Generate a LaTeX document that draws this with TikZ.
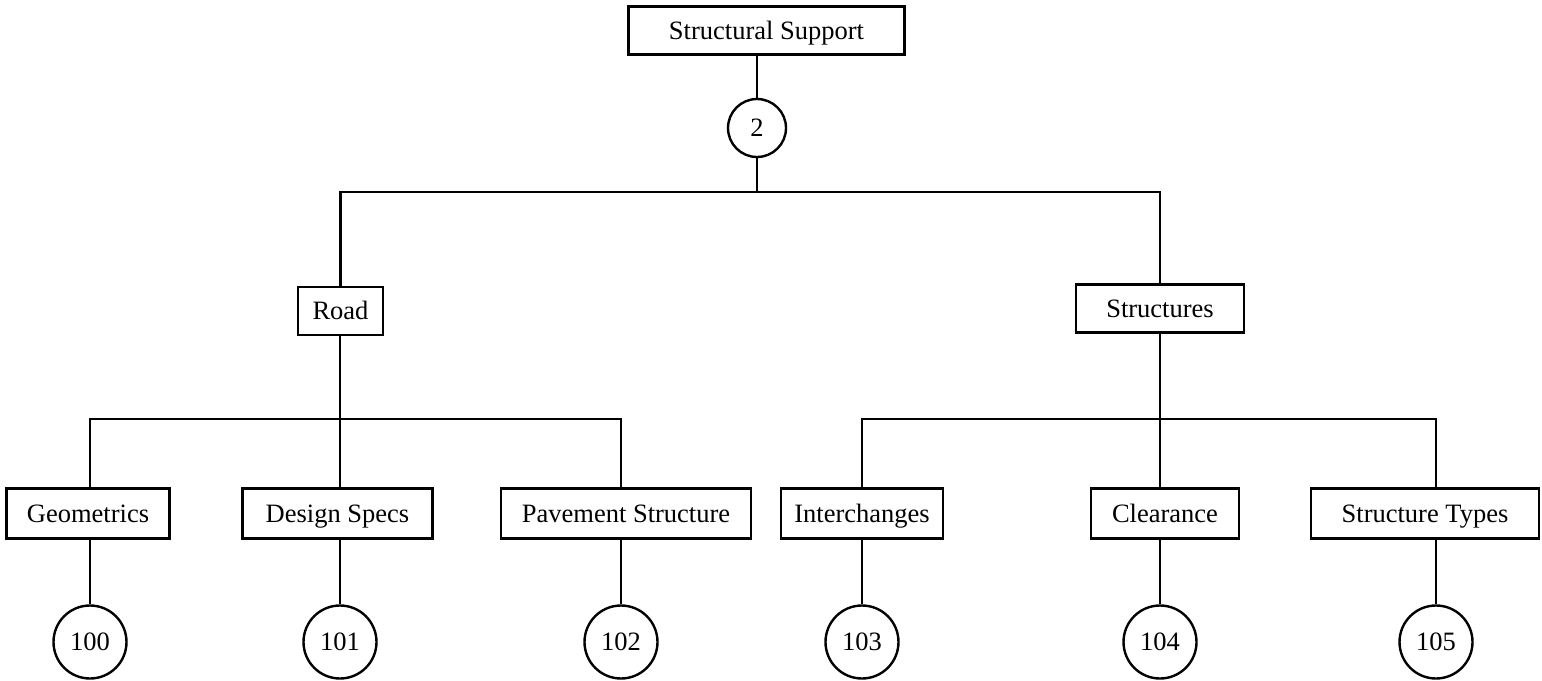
\documentclass[tikz,border=0pt]{standalone}
\usepackage{fontspec}
\setmainfont{Liberation Serif}
\begin{document}
\begin{tikzpicture}[x=1pt,y=-1pt,
  box/.style={draw,line width=2.6pt,inner sep=0pt,minimum height=50pt,
    text height=20pt,text depth=2.5pt,
    font=\fontsize{26.5}{30}\selectfont},
  num/.style={draw,circle,line width=2.4pt,inner sep=0pt,
    font=\fontsize{26.5}{30}\selectfont},
  link/.style={line width=2.6pt}]
\useasboundingbox (0,0) rectangle (1542,680);

% top level
\node[box,minimum width=276pt,minimum height=48pt] (top) at (766.5,30.5) {Structural Support};
\node[num,minimum size=58pt] (c2) at (757,128) {2};

% second level
\node[box,minimum width=85pt,minimum height=48pt] (road) at (340.5,311) {Road};
\node[box,minimum width=168pt,minimum height=48pt] (structs) at (1160,308.5) {Structures};

% third level
\node[box,minimum width=163pt] (geo) at (88,513.5) {Geometrics};
\node[box,minimum width=190pt] (design) at (337.5,513.5) {Design Specs};
\node[box,minimum width=250pt] (pave) at (626,513.5) {Pavement Structure};
\node[box,minimum width=162pt] (inter) at (862,513.5) {Interchanges};
\node[box,minimum width=148pt] (clear) at (1165,513.5) {Clearance};
\node[box,minimum width=228pt] (stypes) at (1425,513.5) {Structure Types};

% reference numbers
\node[num,minimum size=73pt] (c100) at (90,642) {100};
\node[num,minimum size=73pt] (c101) at (340,642) {101};
\node[num,minimum size=73pt] (c102) at (621,642) {102};
\node[num,minimum size=73pt] (c103) at (862,642) {103};
\node[num,minimum size=73pt] (c104) at (1160,642) {104};
\node[num,minimum size=73pt] (c105) at (1436,642) {105};

% bus bars
\coordinate (bus) at (757,192);
\coordinate (rbus) at (340,419);
\coordinate (sbus) at (1160,419);

% connectors
\draw[link] (c2 |- top.south) -- (c2.north);
\draw[link] (c2.south) -- (bus);
\draw[link] (road.north) |- (bus) -| (structs.north);

\draw[link] (road.south -| rbus) -- (rbus);
\draw[link] (c100 |- geo.north) |- (rbus) -| (c102 |- pave.north);
\draw[link] (rbus) -- (c101 |- design.north);

\draw[link] (structs.south) -- (sbus);
\draw[link] (c103 |- inter.north) |- (sbus) -| (c105 |- stypes.north);
\draw[link] (sbus) -- (c104 |- clear.north);

\draw[link] (c100 |- geo.south) -- (c100.north);
\draw[link] (c101 |- design.south) -- (c101.north);
\draw[link] (c102 |- pave.south) -- (c102.north);
\draw[link] (c103 |- inter.south) -- (c103.north);
\draw[link] (c104 |- clear.south) -- (c104.north);
\draw[link] (c105 |- stypes.south) -- (c105.north);
\end{tikzpicture}
\end{document}
